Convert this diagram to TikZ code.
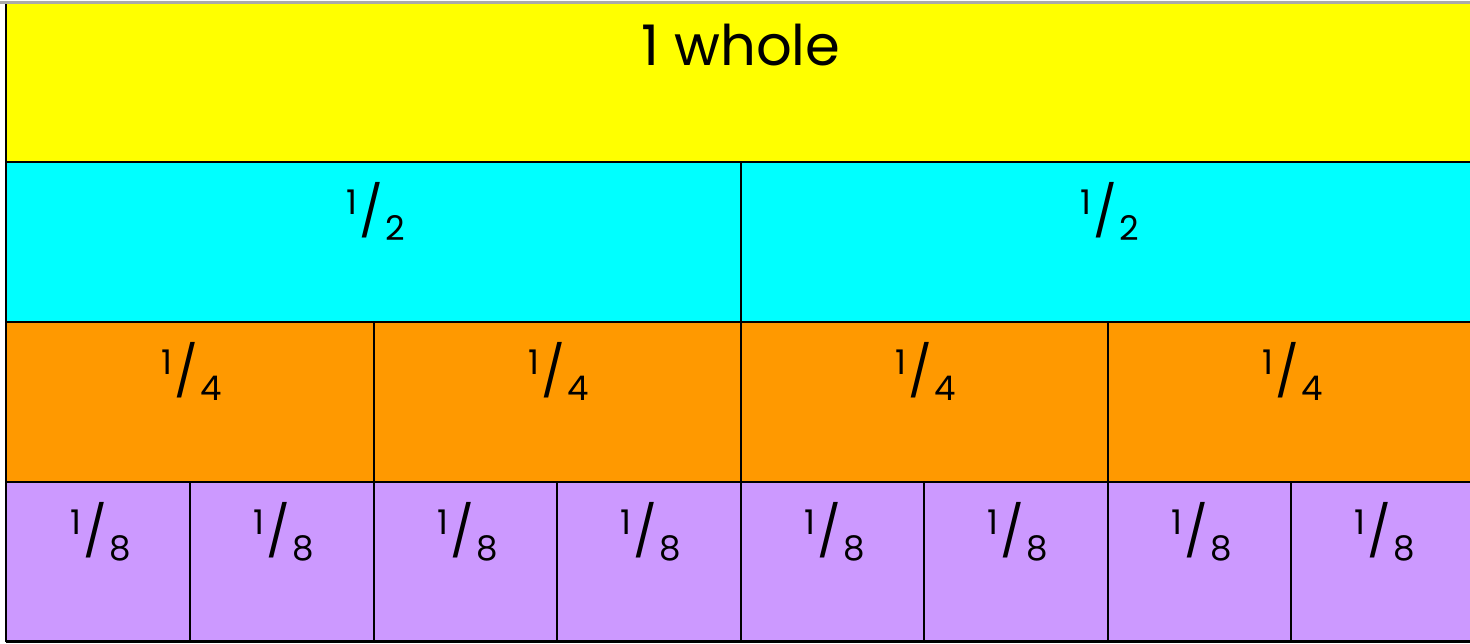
\documentclass[tikz,border=0pt]{standalone}
\usepackage{fontspec}
\setmainfont{Poppins}
\definecolor{cyellow}{HTML}{FFFF00}
\definecolor{ccyan}{HTML}{00FFFF}
\definecolor{corange}{HTML}{FF9900}
\definecolor{cpurple}{HTML}{CC99FF}
\definecolor{cgray}{HTML}{AAAAAA}
\newcommand{\frc}[2]{\raisebox{15pt}{\fontsize{34}{34}\selectfont #1}\hspace{2pt}{\fontsize{50}{50}\selectfont /}\hspace{2pt}\raisebox{-11pt}{\fontsize{34}{34}\selectfont #2}}
\tikzset{
  cell/.style={draw=black, line width=2.2pt},
  lbl/.style={anchor=base, inner sep=0pt, text=black},
}
\begin{document}
\begin{tikzpicture}[x=1pt,y=-1pt]
\useasboundingbox (0,0) rectangle (1470,643);
\fill[white] (0,0) rectangle (1470,643);
\clip (0,0) rectangle (1470,643);
\draw[cgray, line width=3pt] (0,2.5) -- (1470,2.5);
% rows
\fill[cyellow] (7,4) rectangle (1476,162);
\fill[ccyan] (7,162) rectangle (1476,322);
\fill[corange] (7,322) rectangle (1476,482);
\fill[cpurple] (7,482) rectangle (1476,642);
% row lines
\draw[cell] (6,162) -- (1476,162);
\draw[cell] (6,322) -- (1476,322);
\draw[cell] (6,482) -- (1476,482);
\draw[cell] (6,641.5) -- (1476,641.5);
\draw[cell] (6,4) -- (6,642);
% dividers
\draw[cell, line width=2pt] (741,162) -- (741,642);
\foreach \x in {374,1108} \draw[cell, line width=2pt] (\x,322) -- (\x,642);
\foreach \x in {190,557,924,1291} \draw[cell, line width=2pt] (\x,482) -- (\x,642);
% labels
\node[lbl] (whole) at (741,65) {\fontsize{56}{56}\selectfont 1 whole};
\node[lbl] (h1) at (376,229) {\frc{1}{2}};
\node[lbl] (h2) at (1110,229) {\frc{1}{2}};
\node[lbl] (q1) at (192,389) {\frc{1}{4}};
\node[lbl] (q2) at (559,389) {\frc{1}{4}};
\node[lbl] (q3) at (926,389) {\frc{1}{4}};
\node[lbl] (q4) at (1293,389) {\frc{1}{4}};
\node[lbl] (e1) at (101,549) {\frc{1}{8}};
\node[lbl] (e2) at (284,549) {\frc{1}{8}};
\node[lbl] (e3) at (468,549) {\frc{1}{8}};
\node[lbl] (e4) at (651,549) {\frc{1}{8}};
\node[lbl] (e5) at (835,549) {\frc{1}{8}};
\node[lbl] (e6) at (1018,549) {\frc{1}{8}};
\node[lbl] (e7) at (1202,549) {\frc{1}{8}};
\node[lbl] (e8) at (1385,549) {\frc{1}{8}};
\end{tikzpicture}
\end{document}
